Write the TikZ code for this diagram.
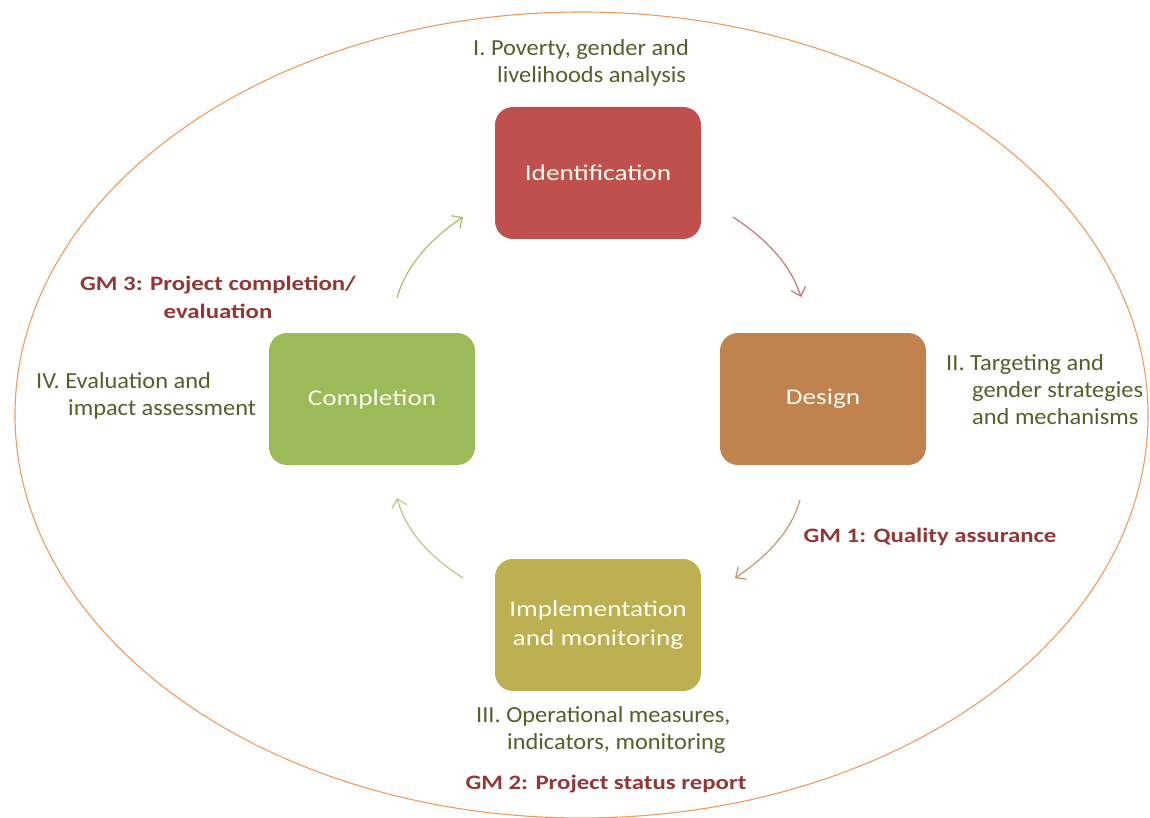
\documentclass[tikz,border=0pt]{standalone}
\usepackage{fontspec}
\setmainfont[FakeStretch=1.21]{Carlito}
\newfontfamily\labelfont[FakeStretch=1.06]{Carlito}
\usetikzlibrary{arrows.meta}
\definecolor{identred}{HTML}{C0504D}
\definecolor{designbrown}{HTML}{C0824F}
\definecolor{complgreen}{HTML}{9BBB59}
\definecolor{implolive}{HTML}{BCB053}
\definecolor{labelgreen}{HTML}{4F6228}
\definecolor{gmred}{HTML}{943634}
\definecolor{ringorange}{HTML}{F39A5A}
\definecolor{boxtext}{HTML}{FFFDF0}
\begin{document}
\begin{tikzpicture}[x=1pt,y=-1pt,
  box/.style={rounded corners=18pt, minimum width=206pt, minimum height=132pt,
    text=boxtext, font=\fontsize{22.5}{29}\selectfont, align=center, inner sep=0pt},
  lbl/.style={text=labelgreen, font=\labelfont\fontsize{23}{27}\selectfont, align=left,
    anchor=west, inner sep=0pt},
  gm/.style={text=gmred, font=\bfseries\fontsize{20.5}{28}\selectfont,
    align=center, inner sep=0pt},
  flow/.style={line width=1.2pt, -{Straight Barb[length=8pt,width=15pt]}}]
\useasboundingbox (0,0) rectangle (1150,818);

% outer ring
\draw[ringorange, line width=1.1pt] (581.5,415) ellipse [x radius=566.5, y radius=403];

% the four stages
\node[box, fill=identred]    (ident)  at (598,173) {Identification};
\node[box, fill=designbrown] (design) at (823,399) {Design};
\node[box, fill=complgreen]  (compl)  at (372,399) {Completion};
\node[box, fill=implolive]   (impl)   at (598,625) {Implementation\\and monitoring};

% stage descriptions
\node[lbl] (lI)   at (473,63)  {I. Poverty, gender and\\\hspace*{24pt}livelihoods analysis};
\node[lbl] (lII)  at (946,390) {II. Targeting and\\\hspace*{26pt}gender strategies\\\hspace*{26pt}and mechanisms};
\node[lbl] (lIII) at (476,730) {III. Operational measures,\\\hspace*{31pt}indicators, monitoring};
\node[lbl] (lIV)  at (36,396)  {IV. Evaluation and\\\hspace*{32pt}impact assessment};

% milestones
\node[gm] (gm1) at (930,537) {GM 1: Quality assurance};
\node[gm] (gm2) at (606,784) {GM 2: Project status report};
\node[gm] (gm3) at (218,297) {GM 3: Project completion/\\evaluation};

% flow arrow end points
\coordinate (a1s) at (733,217); \coordinate (a1e) at (801,297);
\coordinate (a2s) at (800,500); \coordinate (a2e) at (735,578);
\coordinate (a3s) at (463,578); \coordinate (a3e) at (397,498);
\coordinate (a4s) at (397,298); \coordinate (a4e) at (463,217);

\draw[flow, identred!80]    (a1s) .. controls (762,236) and (790,262) .. (a1e);
\draw[flow, designbrown!85] (a2s) .. controls (790,535) and (762,560) .. (a2e);
\draw[flow, complgreen!75]  (a3s) .. controls (435,560) and (407,535) .. (a3e);
\draw[flow, complgreen!90]  (a4s) .. controls (407,262) and (435,236) .. (a4e);
\end{tikzpicture}
\end{document}
